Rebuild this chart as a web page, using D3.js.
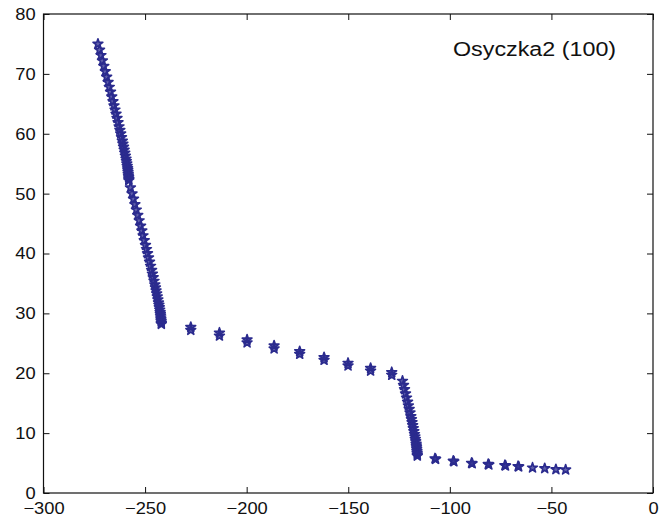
<!DOCTYPE html>
<html>
<head>
<meta charset="utf-8">
<script src="https://cdn.jsdelivr.net/npm/d3@7"></script>
<style>
  body { margin: 0; background: #fff; }
  svg text { font-family: "Liberation Sans", Arial, Helvetica, sans-serif; fill: #111; }
</style>
</head>
<body>
<div id="chart"></div>
<script>
// Osyczka2 front (f1 on x, f2 on y)
// upper steep branch
const upperF1 = [-273.2, -272.4, -271.7, -271.0, -270.3, -269.6, -268.9, -268.2, -267.6, -267.0,
                 -266.4, -265.8, -265.3, -264.8, -264.3, -263.8, -263.3, -262.8, -262.4, -262.0,
                 -261.6, -261.2, -260.9, -260.6, -260.3, -260.0, -259.7, -259.4, -259.2, -259.0,
                 -258.8, -258.6, -258.5, -258.4, -258.3, -258.2, -258.1, -258.0, -258.0];
const upperF2 = [75.0, 74.0, 73.1, 72.2, 71.3, 70.4, 69.5, 68.6, 67.8, 67.0,
                 66.2, 65.4, 64.7, 64.0, 63.3, 62.6, 61.9, 61.2, 60.6, 60.0,
                 59.4, 58.8, 58.3, 57.8, 57.3, 56.8, 56.3, 55.8, 55.4, 55.0,
                 54.6, 54.2, 53.9, 53.6, 53.3, 53.0, 52.7, 52.4, 52.2];
// lower steep branch
const lowerF1 = [-257.2, -256.4, -255.7, -255.0, -254.3, -253.6, -252.9, -252.2, -251.6, -251.0,
                 -250.4, -249.8, -249.3, -248.8, -248.3, -247.8, -247.3, -246.8, -246.4, -246.0,
                 -245.6, -245.2, -244.9, -244.6, -244.3, -244.0, -243.7, -243.4, -243.2, -243.0,
                 -242.8, -242.6, -242.5, -242.4, -242.3, -242.2, -242.1, -242.0, -242.0];
const lowerF2 = [51.0, 50.0, 49.1, 48.2, 47.3, 46.4, 45.5, 44.6, 43.8, 43.0,
                 42.2, 41.4, 40.7, 40.0, 39.3, 38.6, 37.9, 37.2, 36.6, 36.0,
                 35.4, 34.8, 34.3, 33.8, 33.3, 32.8, 32.3, 31.8, 31.4, 31.0,
                 30.6, 30.2, 29.9, 29.6, 29.3, 29.0, 28.7, 28.4, 28.2];
// sparse middle part (points come in near-duplicate pairs)
const midF1 = [-227.5, -227.5, -213.4, -213.4, -199.8, -199.8, -186.5, -186.5, -173.9, -173.9,
               -161.9, -161.9, -150.1, -150.1, -139.0, -139.0, -128.6, -128.6];
const midF2 = [27.7, 27.2, 26.75, 26.25, 25.6, 25.1, 24.6, 24.1, 23.65, 23.2,
               22.65, 22.2, 21.7, 21.25, 20.85, 20.4, 20.15, 19.7];
// second steep branch
const steepF1 = [-123.3, -122.8, -122.3, -121.8, -121.3, -120.8, -120.4, -120.0, -119.6, -119.2,
                 -118.9, -118.6, -118.3, -118.0, -117.7, -117.4, -117.2, -117.0, -116.8, -116.6,
                 -116.5, -116.4, -116.3, -116.2, -116.1, -116.0, -116.0];
const steepF2 = [18.7, 18.0, 17.3, 16.6, 15.9, 15.2, 14.6, 14.0, 13.4, 12.8,
                 12.3, 11.8, 11.3, 10.8, 10.3, 9.8, 9.4, 9.0, 8.6, 8.2,
                 7.9, 7.6, 7.3, 7.0, 6.7, 6.4, 6.2];
// tail to the right
const tailF1 = [-107.3, -107.0, -98.3, -98.0, -89.3, -89.0, -81.1, -80.8, -72.9, -72.6, -66.4, -66.1, -59.3, -53.3, -47.8, -43.0];
const tailF2 = [5.75, 5.65, 5.35, 5.25, 5.0, 4.92, 4.8, 4.72, 4.62, 4.55, 4.45, 4.4, 4.21, 4.1, 3.93, 3.88];

const xTicks = [-300, -250, -200, -150, -100, -50, 0];
const yTicks = [0, 10, 20, 30, 40, 50, 60, 70, 80];
const title = "Osyczka2 (100)";

const f1 = [].concat(upperF1, lowerF1, midF1, steepF1, tailF1);
const f2 = [].concat(upperF2, lowerF2, midF2, steepF2, tailF2);
const points = f1.map((v, i) => ({x: v, y: f2[i]}));

const width = 668, height = 518;
const plotLeft = 43.5, plotRight = 653, plotTop = 14, plotBottom = 493;
const stretch = 1.11; // the picture is slightly wider than tall

const svg = d3.select("#chart").append("svg")
  .attr("width", width)
  .attr("height", height);

const x = d3.scaleLinear().domain([-300, 0]).range([plotLeft, plotRight]);
const y = d3.scaleLinear().domain([0, 80]).range([plotBottom, plotTop]);

const fmt = d => d < 0 ? "\u2212" + Math.abs(d) : String(d);

// bottom axis with labels
const gx = svg.append("g")
  .attr("transform", "translate(0," + plotBottom + ")")
  .call(d3.axisBottom(x).tickValues(xTicks).tickSizeInner(-6).tickSizeOuter(0).tickPadding(9).tickFormat(fmt));
gx.selectAll("text")
  .style("font-size", "16.5px")
  .attr("transform", "scale(" + stretch + ",1)");

// left axis with labels
const gy = svg.append("g")
  .attr("transform", "translate(" + plotLeft + ",0)")
  .call(d3.axisLeft(y).tickValues(yTicks).tickSizeInner(-6).tickSizeOuter(0).tickPadding(7).tickFormat(fmt));
gy.selectAll("text")
  .style("font-size", "16.5px")
  .attr("dy", "0.33em")
  .attr("transform", "scale(" + stretch + ",1)");

// mirrored ticks on top and right
svg.append("g")
  .attr("transform", "translate(0," + plotTop + ")")
  .call(d3.axisTop(x).tickValues(xTicks).tickSizeInner(-6).tickSizeOuter(0).tickFormat(""));
svg.append("g")
  .attr("transform", "translate(" + plotRight + ",0)")
  .call(d3.axisRight(y).tickValues(yTicks).tickSizeInner(-6).tickSizeOuter(0).tickFormat(""));

svg.selectAll(".domain").remove();
svg.selectAll(".tick line").attr("stroke", "#111").attr("stroke-width", 1);

// box
svg.append("rect")
  .attr("x", plotLeft)
  .attr("y", plotTop)
  .attr("width", plotRight - plotLeft)
  .attr("height", plotBottom - plotTop)
  .attr("fill", "none")
  .attr("stroke", "#111")
  .attr("stroke-width", 1.2);

// stars
const star = d3.symbol().type(d3.symbolStar).size(30);
svg.append("g")
  .selectAll("path")
  .data(points)
  .enter()
  .append("path")
    .attr("d", star)
    .attr("transform", d => "translate(" + x(d.x) + "," + y(d.y) + ")")
    .attr("fill", "#2b2b8e")
    .attr("fill-opacity", 0.75)
    .attr("stroke", "#2b2b8e")
    .attr("stroke-linejoin", "round")
    .attr("stroke-width", 1.6);

// title
svg.append("g")
  .attr("transform", "translate(453,56) scale(" + stretch + ",1)")
  .append("text")
    .style("font-size", "21px")
    .text(title);
</script>
</body>
</html>
